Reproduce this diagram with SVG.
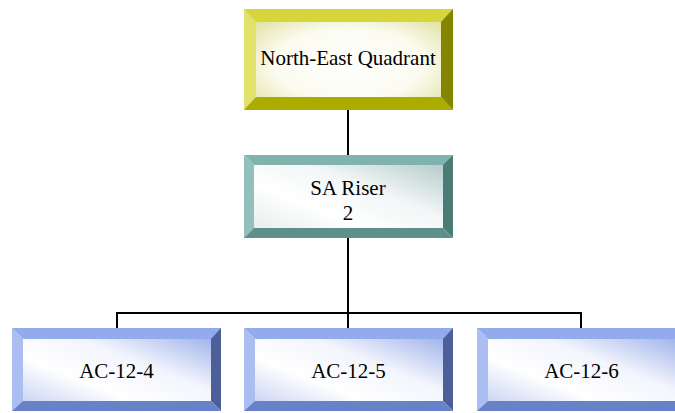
<svg xmlns="http://www.w3.org/2000/svg" width="675" height="413" viewBox="0 0 675 413" font-family="'Liberation Serif', 'Times New Roman', Times, serif">
<style>
text{font-family:"Liberation Serif","Times New Roman",Times,serif;font-size:21px;fill:#000;text-anchor:middle}
.conn{stroke:#000;stroke-width:2;fill:none}
.y-t{fill:#d6d63c}.y-l{fill:#e2e26a}.y-r{fill:#858500}.y-b{fill:#abab00}
.t-t{fill:#80b3ae}.t-l{fill:#92c0bc}.t-r{fill:#4a7b77}.t-b{fill:#5f8f8b}
.b-t{fill:#91abec}.b-l{fill:#aabef1}.b-r{fill:#4d5f98}.b-b{fill:#6882c9}
.fy{fill:url(#gy)}.ft{fill:url(#gt)}.fb{fill:url(#gb)}
</style>
<defs>
<radialGradient id="gy" cx="0.5" cy="0.55" r="0.65">
<stop offset="0" stop-color="#ffffff"/>
<stop offset="0.55" stop-color="#fbfbf0"/>
<stop offset="1" stop-color="#dede96"/>
</radialGradient>
<linearGradient id="gt" x1="0" y1="1" x2="1" y2="0">
<stop offset="0" stop-color="#dfe9e8"/>
<stop offset="0.35" stop-color="#ffffff"/>
<stop offset="0.6" stop-color="#f2f6f6"/>
<stop offset="1" stop-color="#a5c2c0"/>
</linearGradient>
<linearGradient id="gb" x1="0" y1="1" x2="1" y2="0">
<stop offset="0" stop-color="#bcc9f2"/>
<stop offset="0.35" stop-color="#ffffff"/>
<stop offset="0.6" stop-color="#f3f5fd"/>
<stop offset="1" stop-color="#8aa1e6"/>
</linearGradient>
</defs>

<g id="connectors">
<line class="conn" x1="348" y1="110" x2="348" y2="155"/>
<line class="conn" x1="348" y1="238" x2="348" y2="328"/>
<line class="conn" x1="116" y1="313" x2="582" y2="313"/>
<line class="conn" x1="117" y1="312" x2="117" y2="328"/>
<line class="conn" x1="581" y1="312" x2="581" y2="328"/>
</g>

<g id="node-ne">
<rect class="fy" x="244" y="9" width="209" height="101"/>
<polygon class="y-t" points="244,9 453,9 441,22 256,22"/>
<polygon class="y-l" points="244,9 256,22 256,97 244,110"/>
<polygon class="y-r" points="453,9 453,110 441,97 441,22"/>
<polygon class="y-b" points="244,110 256,97 441,97 453,110"/>
<text x="348" y="65">North-East Quadrant</text>
</g>

<g id="node-sa">
<rect class="ft" x="244" y="155" width="209" height="83"/>
<polygon class="t-t" points="244,155 453,155 443,165 254,165"/>
<polygon class="t-l" points="244,155 254,165 254,228 244,238"/>
<polygon class="t-r" points="453,155 453,238 443,228 443,165"/>
<polygon class="t-b" points="244,238 254,228 443,228 453,238"/>
<text x="348" y="195">SA Riser</text>
<text x="348" y="220">2</text>
</g>

<g id="node-ac4">
<rect class="fb" x="12" y="328" width="209" height="83"/>
<polygon class="b-t" points="12,328 221,328 211,339 23,339"/>
<polygon class="b-l" points="12,328 23,339 23,401 12,411"/>
<polygon class="b-r" points="221,328 221,411 211,401 211,339"/>
<polygon class="b-b" points="12,411 23,401 211,401 221,411"/>
<text x="116.5" y="378">AC-12-4</text>
</g>

<g id="node-ac5">
<rect class="fb" x="244" y="328" width="209" height="83"/>
<polygon class="b-t" points="244,328 453,328 443,339 255,339"/>
<polygon class="b-l" points="244,328 255,339 255,401 244,411"/>
<polygon class="b-r" points="453,328 453,411 443,401 443,339"/>
<polygon class="b-b" points="244,411 255,401 443,401 453,411"/>
<text x="348.5" y="378">AC-12-5</text>
</g>

<g id="node-ac6">
<rect class="fb" x="477" y="328" width="209" height="83"/>
<polygon class="b-t" points="477,328 686,328 676,339 488,339"/>
<polygon class="b-l" points="477,328 488,339 488,401 477,411"/>
<polygon class="b-r" points="686,328 686,411 676,401 676,339"/>
<polygon class="b-b" points="477,411 488,401 676,401 686,411"/>
<text x="581.5" y="378">AC-12-6</text>
</g>
</svg>
